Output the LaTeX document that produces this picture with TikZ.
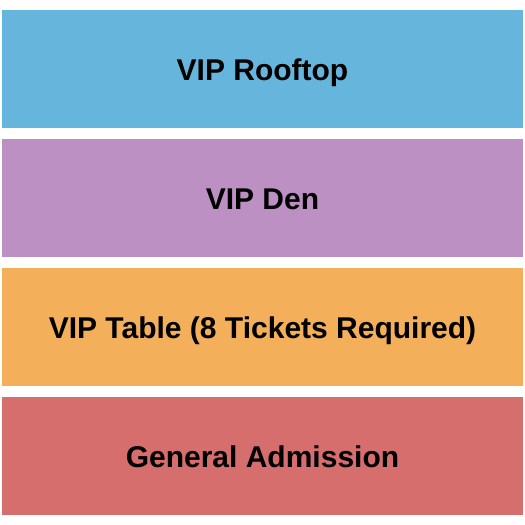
\documentclass[tikz,border=0pt]{standalone}
\usepackage{fontspec}
\setmainfont{Liberation Sans}
\definecolor{rooftopblue}{HTML}{66B5DC}
\definecolor{denpurple}{HTML}{BC90C2}
\definecolor{tableorange}{HTML}{F4AF5B}
\definecolor{gared}{HTML}{D66E6D}
\begin{document}
\begin{tikzpicture}[x=1pt,y=-1pt,inner sep=0pt,outer sep=0pt,
section/.style={rectangle,minimum width=521pt,minimum height=118pt,anchor=north west,
  font=\fontsize{30}{34}\selectfont\bfseries,text=black,
  text height=23.5pt,text depth=0pt}]
\useasboundingbox (0,0) rectangle (525,525);
\node[section,fill=rooftopblue] (rooftop) at (2,10) {VIP Rooftop};
\node[section,fill=denpurple] (den) at (2,139) {VIP Den};
\node[section,fill=tableorange] (table) at (2,268) {VIP Table (8 Tickets Required)};
\node[section,fill=gared] (ga) at (2,397) {General Admission};
\end{tikzpicture}
\end{document}
